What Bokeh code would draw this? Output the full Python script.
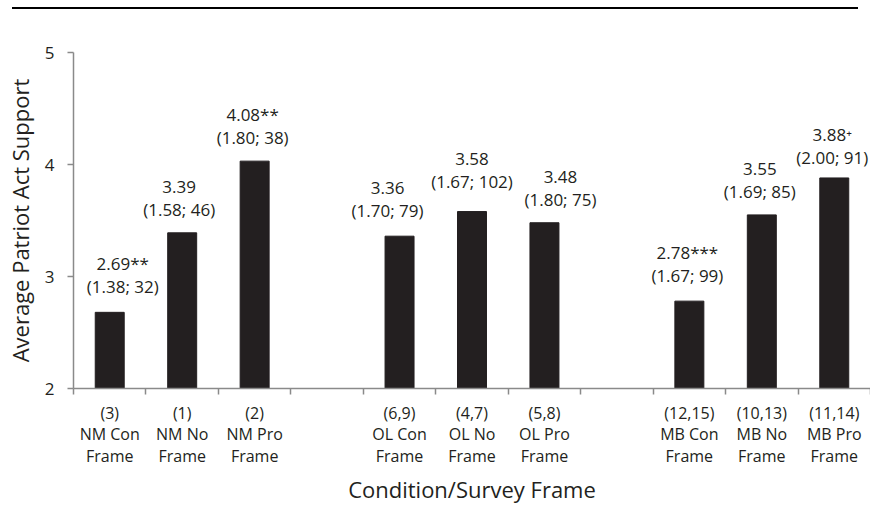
from bokeh.plotting import figure
from bokeh.models import ColumnDataSource, FixedTicker, Div
from bokeh.layouts import column
from bokeh.core.properties import value
from bokeh.embed import file_html
from bokeh.resources import INLINE

# ---- data ----
groups = ["NM", "OL", "MB"]
frames = ["Con", "No", "Pro"]
conditions = ["(3)", "(1)", "(2)", "(6,9)", "(4,7)", "(5,8)", "(12,15)", "(10,13)", "(11,14)"]
bar_heights = [2.68, 3.39, 4.03, 3.36, 3.58, 3.48, 2.78, 3.55, 3.88]   # as drawn
reported_means = ["2.69", "3.39", "4.08", "3.36", "3.58", "3.48", "2.78", "3.55", "3.88"]
significance = ["**", "", "**", "", "", "", "***", "", "\u207a"]
sds = ["1.38", "1.58", "1.80", "1.70", "1.67", "1.80", "1.67", "1.69", "2.00"]
ns = [32, 46, 38, 79, 102, 75, 99, 85, 91]
y_ticks = [2, 3, 4, 5]

# ---- label nudges (layout only, pixels; negative dy = up) ----
label_dx = [13, -3, -2, -12, 0, 16, -2, -2, -2]
label_dy = [-2, 0, 0, -2, -7, 0, -2, 0, 3]
BASE_DY = -12

FONT = "Open Sans"
INK = "#231f20"
AXIS = "#8a8a8a"

slots, tick_labels, label_text = [], {}, []
i = 0
for g_i, g in enumerate(groups):
    for f_i, f in enumerate(frames):
        s = g_i * 4 + f_i + 0.5
        slots.append(s)
        tick_labels[s] = f"{conditions[i]}\n{g} {f}\nFrame"
        label_text.append(f"{reported_means[i]}{significance[i]}\n({sds[i]}; {ns[i]})")
        i += 1

n_slots = len(groups) * 4 - 1

src = ColumnDataSource(dict(
    x=slots, top=bar_heights, label=label_text,
    xo=label_dx, yo=[BASE_DY + d for d in label_dy],
))

p = figure(width=870, height=497, x_range=(0, n_slots), y_range=(y_ticks[0], y_ticks[-1]),
           output_backend="svg", toolbar_location=None,
           min_border_left=73, min_border_right=0, min_border_top=43, min_border_bottom=117)
p.outline_line_color = None
p.xgrid.grid_line_color = None
p.ygrid.grid_line_color = None

p.vbar(x="x", top="top", bottom=y_ticks[0], width=0.4, source=src,
       fill_color=INK, line_color=INK)

p.text(x="x", y="top", text="label", source=src, x_offset="xo", y_offset="yo",
       text_align="center", text_baseline="bottom", text_font=value(FONT),
       text_font_size="17px", text_color=INK, text_line_height=1.0)

# x axis: labels at slot centres, minor ticks at slot boundaries
xa = p.xaxis[0]
xa.ticker = FixedTicker(ticks=slots, minor_ticks=list(range(0, n_slots + 1)))
xa.major_label_overrides = tick_labels
xa.major_tick_line_color = None
xa.major_tick_out = 0
xa.major_tick_in = 0
xa.minor_tick_line_color = AXIS
xa.minor_tick_line_width = 1.5
xa.minor_tick_out = 6
xa.minor_tick_in = 0
xa.axis_line_color = AXIS
xa.axis_line_width = 1.5
xa.major_label_text_font = FONT
xa.major_label_text_font_size = "16px"
xa.major_label_text_color = INK
xa.major_label_text_line_height = 0.98
xa.major_label_standoff = 7
xa.axis_label = "Condition/Survey Frame"
xa.axis_label_text_font = FONT
xa.axis_label_text_font_size = "22px"
xa.axis_label_text_font_style = "normal"
xa.axis_label_text_color = INK
xa.axis_label_standoff = 4

ya = p.yaxis[0]
ya.ticker = FixedTicker(ticks=y_ticks)
ya.minor_tick_line_color = None
ya.major_tick_line_color = AXIS
ya.major_tick_line_width = 1.5
ya.major_tick_out = 6
ya.major_tick_in = 0
ya.axis_line_color = AXIS
ya.axis_line_width = 1.5
ya.major_label_text_font = FONT
ya.major_label_text_font_size = "17px"
ya.major_label_text_color = INK
ya.major_label_standoff = 13
ya.axis_label = "Average Patriot Act Support"
ya.axis_label_text_font = FONT
ya.axis_label_text_font_size = "22px"
ya.axis_label_text_font_style = "normal"
ya.axis_label_text_color = INK
ya.axis_label_standoff = 7

rule = Div(text="", width=846, height=2, margin=(7, 0, 0, 12),
           styles={"background-color": "black"})

layout = column(rule, p, spacing=0)
open("out.html", "w").write(file_html(layout, INLINE))
